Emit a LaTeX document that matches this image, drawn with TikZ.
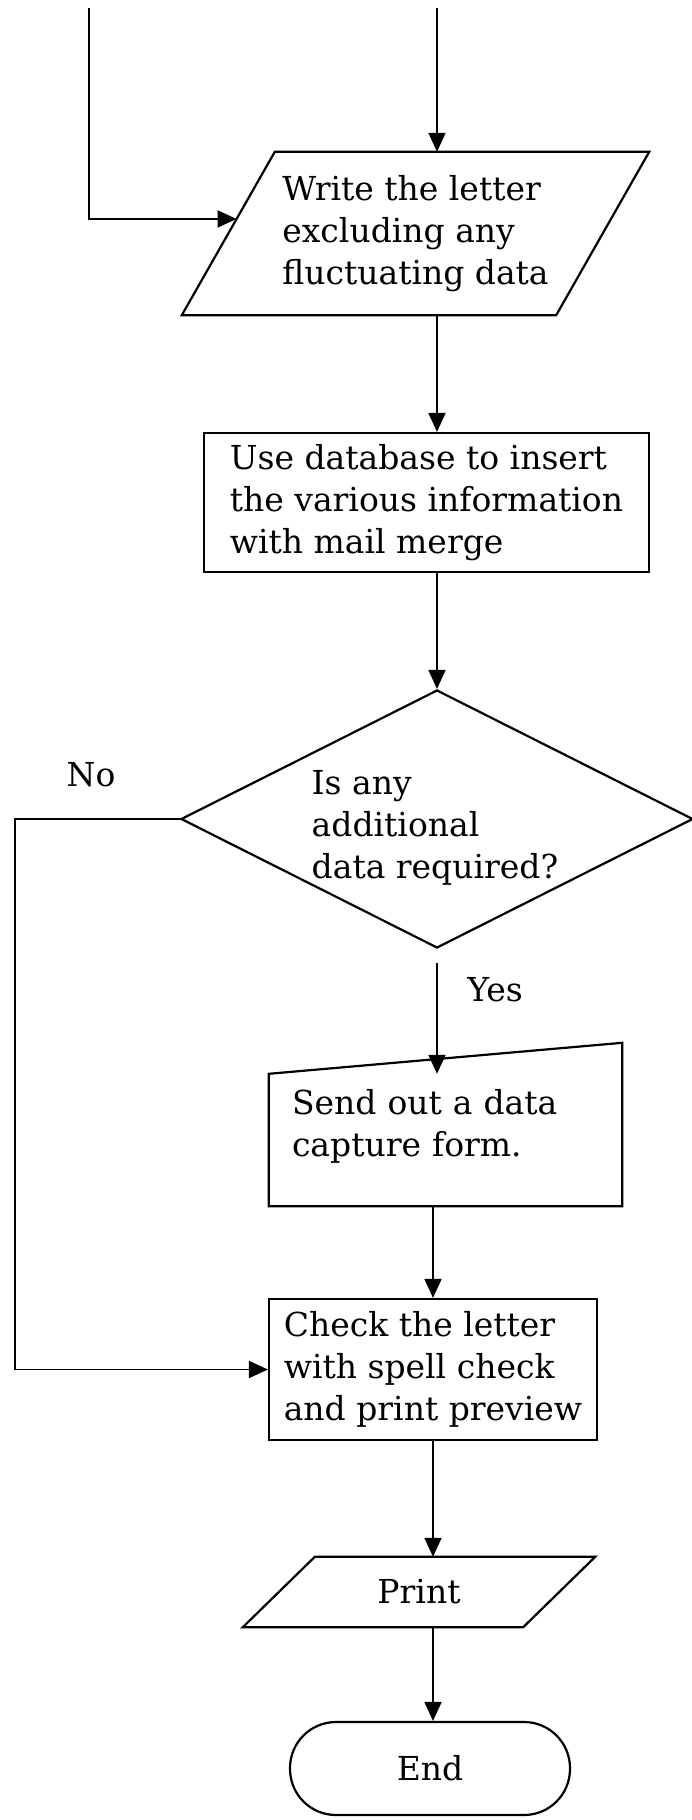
\documentclass[tikz,border=0pt]{standalone}
\usepackage{fontspec}
\setmainfont{DejaVu Serif}
\usepackage{tikz}
\usetikzlibrary{arrows.meta,positioning,shapes.geometric,calc}

\begin{document}
\begin{tikzpicture}[
    x=1pt, y=-1pt,
    font=\fontsize{33}{42}\selectfont,
    shp/.style={draw, line width=2.2pt},
    box/.style={shp, rectangle, inner sep=0pt, align=left},
    txt/.style={rectangle, inner sep=0pt, align=left},
    arr/.style={-{Triangle[length=19pt,width=17pt]}, line width=1.8pt},
    labl/.style={inner sep=0pt}
  ]
  \useasboundingbox (0,0) rectangle (692,1820);

  %% --- Input: write the letter ---
  \node[txt, minimum width=467pt, minimum height=163pt] (p1) at (415.5,233.5)
        {Write the letter\\excluding any\\fluctuating data};
  \draw[shp] ([xshift=93pt]p1.north west) -- (p1.north east)
        -- ([xshift=-93pt]p1.south east) -- (p1.south west) -- cycle;

  %% --- Process: mail merge ---
  \node[box, minimum width=445pt, minimum height=139pt] (db) at (426.5,502.5)
        {Use database to insert\\the various information\\with mail merge};

  %% --- Decision ---
  \node[shp, diamond, inner sep=0pt, minimum width=512pt, minimum height=258pt]
        (dec) at (437,819) {};
  \node[txt] (qtxt) at (435,828) {Is any\\additional\\data required?};
  \node[labl] (nolbl)  at (91,775)  {No};
  \node[labl] (yeslbl) at (495,990) {Yes};

  %% --- Manual input: data capture form ---
  \node[txt, minimum width=353pt, minimum height=132pt, text width=307pt,
        inner xsep=23pt] (snd) at (445.5,1140)
        {Send out a data\\capture form.\\[-8pt]\mbox{}};
  \draw[shp] (snd.north west) -- (snd.south west) -- (snd.south east)
        -- ([yshift=31pt]snd.north east) -- cycle;

  %% --- Process: checking ---
  \node[box, minimum width=328pt, minimum height=141pt] (chk) at (433,1369.5)
        {Check the letter\\with spell check\\and print preview};

  %% --- Output: print ---
  \node[txt, minimum width=352pt, minimum height=70pt] (prt) at (419,1592) {Print};
  \draw[shp] ([xshift=72pt]prt.north west) -- (prt.north east)
        -- ([xshift=-72pt]prt.south east) -- (prt.south west) -- cycle;

  %% --- Terminator ---
  \node[shp, rectangle, rounded corners=46pt, minimum width=280pt,
        minimum height=93pt] (finish) at (430,1768.5) {End};

  %% --- Connections ---
  \coordinate (topl) at (89,8);
  \coordinate (topr) at (437,8);
  \coordinate (p1in) at ($(p1.south west)!0.589!([xshift=93pt]p1.north west)$);
  \coordinate (nobend) at (15,819);
  \draw[arr] (topl) |- (p1in);
  \draw[arr] (topr) -- (topr |- p1.north);
  \draw[arr] (topr |- p1.south) -- (topr |- db.north);
  \draw[arr] (topr |- db.south) -- (dec.north);
  % yes branch
  \draw[arr, shorten <=14pt] (dec.south) -- (dec.south |- snd.north);
  % no branch round the left side
  \draw[arr] (dec.west) -- (nobend) |- (chk.west);
  \draw[arr] (chk.north |- snd.south) -- (chk.north);
  \draw[arr] (chk.south) -- (chk.south |- prt.north);
  \draw[arr] (chk.south |- prt.south) -- (chk.south |- finish.north);
\end{tikzpicture}
\end{document}
